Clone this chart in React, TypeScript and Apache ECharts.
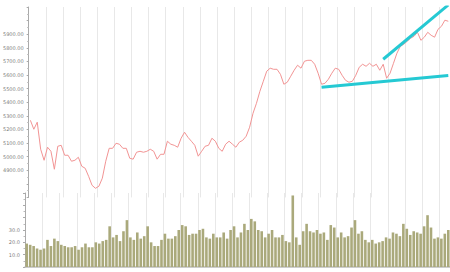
import React, { useEffect, useRef } from "react";
import * as echarts from "echarts";

const priceValues = [
  5267, 5201, 5253, 5054, 4973, 5069, 5039, 4907, 5076, 5083,
  5010, 5010, 4966, 4973, 4995, 4929, 4914, 4855, 4789, 4767,
  4782, 4841, 4966, 5061, 5061, 5098, 5091, 5061, 5061, 4988,
  4981, 5032, 5039, 5032, 5039, 5054, 5039, 4981, 5017, 5017,
  5113, 5091, 5083, 5069, 5135, 5179, 5142, 5113, 5083, 5003,
  5039, 5076, 5083, 5135, 5113, 5061, 5039, 5091, 5113, 5091,
  5069, 5106, 5120, 5150, 5216, 5319, 5392, 5480, 5554, 5628,
  5650, 5642, 5642, 5605, 5532, 5547, 5591, 5635, 5672, 5650,
  5701, 5708, 5708, 5679, 5613, 5532, 5539, 5569, 5613, 5650,
  5642, 5598, 5561, 5547, 5554, 5598, 5657, 5679, 5664, 5686,
  5664, 5679, 5635, 5679, 5576, 5613, 5686, 5760, 5811, 5826,
  5848, 5870, 5885, 5914, 5855, 5878, 5914, 5892, 5878, 5936,
  5958, 6003, 5995,
];

const volumeValues = [
  19, 18, 17, 15, 14, 15, 22, 17, 23, 21,
  18, 17, 16, 16, 17, 14, 16, 19, 16, 16,
  20, 19, 21, 22, 33, 24, 26, 21, 29, 38,
  24, 22, 28, 23, 25, 33, 20, 17, 17, 22,
  27, 23, 23, 25, 30, 34, 33, 26, 27, 27,
  30, 31, 24, 23, 27, 24, 24, 28, 23, 30,
  33, 24, 28, 35, 30, 39, 37, 30, 29, 24,
  27, 30, 24, 24, 26, 21, 20, 58, 24, 18,
  29, 35, 29, 28, 30, 27, 28, 22, 34, 32,
  24, 28, 24, 25, 32, 38, 27, 29, 22, 20,
  22, 19, 20, 21, 24, 23, 28, 27, 25, 35,
  31, 26, 29, 28, 27, 33, 42, 32, 23, 24,
  23, 27, 30,
];

const categories = priceValues.map((_, i) => String(i + 1));

// trend lines: [category index, price]
const trendLow = [
  [85, 5510],
  [122, 5597],
];
const trendHigh = [
  [103, 5716],
  [122, 6115],
];

const priceLabels = [4900, 5000, 5100, 5200, 5300, 5400, 5500, 5600, 5700, 5800, 5900];
const volumeLabels = [10, 20, 30];

export default function App() {
  const ref = useRef<HTMLDivElement>(null);
  useEffect(() => {
    if (!ref.current) return;
    const chart = echarts.init(ref.current, null, { renderer: "svg" });
    const axisLabelStyle = { color: "#7d7d7d", fontSize: 5, fontFamily: "DejaVu Sans" };
    chart.setOption({
      animation: false,
      grid: [
        { left: 25, right: 0, top: 7, height: 190.4 },
        { left: 25, right: 0, top: 193, height: 74 },
      ],
      xAxis: [
        {
          type: "category",
          gridIndex: 0,
          data: categories,
          boundaryGap: true,
          axisLine: { show: false },
          axisTick: { show: false },
          axisLabel: { show: false },
          splitLine: { show: true, interval: 4, lineStyle: { color: "#e8e8e8", width: 1 } },
        },
        {
          type: "category",
          gridIndex: 1,
          data: categories,
          position: "top",
          boundaryGap: true,
          axisLine: { show: true, lineStyle: { color: "#bdbdbd", width: 1.5 } },
          axisTick: { show: false },
          axisLabel: { show: false },
          splitLine: { show: true, interval: 4, lineStyle: { color: "#e8e8e8", width: 1 } },
        },
      ],
      yAxis: [
        {
          type: "value",
          gridIndex: 0,
          min: 4700,
          max: 6100,
          interval: 100,
          axisLine: { show: true, lineStyle: { color: "#aaaaaa" } },
          axisTick: { show: true, length: 2, lineStyle: { color: "#aaaaaa" } },
          minorTick: { show: true, splitNumber: 2, length: 1.5, lineStyle: { color: "#bbbbbb" } },
          splitLine: { show: false },
          axisLabel: {
            ...axisLabelStyle,
            margin: 5,
            formatter: (v: number) => (priceLabels.includes(v) ? v.toFixed(2) : ""),
          },
        },
        {
          type: "value",
          gridIndex: 1,
          min: 0,
          max: 60,
          interval: 10,
          axisLine: { show: true, lineStyle: { color: "#aaaaaa" } },
          axisTick: { show: true, length: 2, lineStyle: { color: "#aaaaaa" } },
          minorTick: { show: true, splitNumber: 2, length: 1.5, lineStyle: { color: "#bbbbbb" } },
          splitLine: { show: false },
          axisLabel: {
            ...axisLabelStyle,
            margin: 5,
            formatter: (v: number) => (volumeLabels.includes(v) ? v.toFixed(1) : ""),
          },
        },
      ],
      series: [
        {
          type: "line",
          xAxisIndex: 0,
          yAxisIndex: 0,
          data: priceValues,
          symbol: "none",
          lineStyle: { color: "#f29494", width: 1 },
        },
        {
          type: "line",
          xAxisIndex: 0,
          yAxisIndex: 0,
          data: trendLow,
          symbol: "none",
          lineStyle: { color: "#25c9d3", width: 3 },
        },
        {
          type: "line",
          xAxisIndex: 0,
          yAxisIndex: 0,
          data: trendHigh,
          symbol: "none",
          clip: true,
          lineStyle: { color: "#25c9d3", width: 3 },
        },
        {
          type: "bar",
          xAxisIndex: 1,
          yAxisIndex: 1,
          data: volumeValues,
          barCategoryGap: "25%",
          itemStyle: { color: "#aaa97b" },
        },
      ],
    });
    return () => chart.dispose();
  }, []);
  return <div ref={ref} style={{ width: 450, height: 272, position: "absolute", left: 0, top: 0 }} />;
}
